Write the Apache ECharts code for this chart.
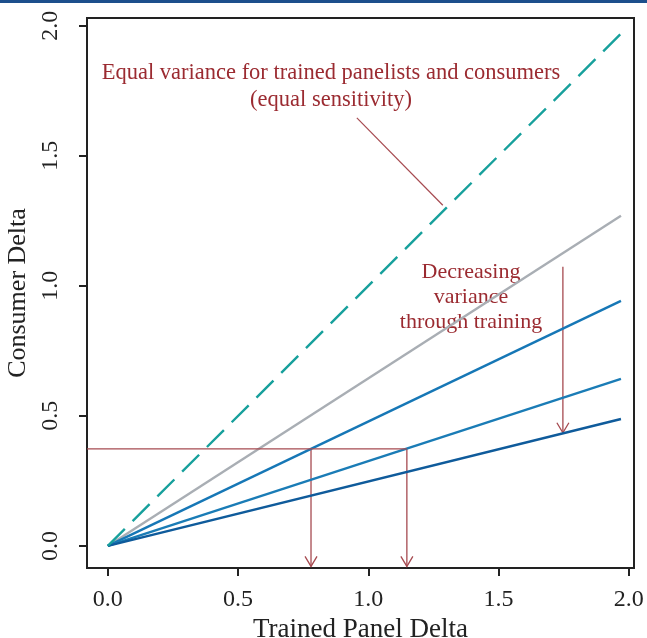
<!DOCTYPE html>
<html>
<head>
<meta charset="utf-8">
<script src="https://cdn.jsdelivr.net/npm/echarts@6/dist/echarts.min.js"></script>
<style>
  html, body { margin: 0; padding: 0; background: #fff; }
  #chart { width: 647px; height: 638px; }
</style>
</head>
<body>
<div id="chart"></div>
<script>
// data
var tickValues = [0, 0.5, 1, 1.5, 2];
var lineEndX = 1.97;
var lineEndY = [1.97, 1.27, 0.942, 0.642, 0.488];   // equal, gray, blue, blue, dark blue
var lineColors = ['#17a09c', '#a9aeb4', '#1677b6', '#1a7cb6', '#0f5b9b'];
var refLevel = 0.373;                 // horizontal reference line
var refCross = [0.78, 1.148];         // where it meets the two blue lines
var trainArrow = [1.747, 1.073, 0.435];
var pointer = [[0.956, 1.646], [1.286, 1.31]];

var xMin = -0.08, xMax = 2.02, yMin = -0.085, yMax = 2.03;
var serif = "'Liberation Serif', 'DejaVu Serif', serif";
var red = '#9b2b31', redLine = '#a64a50';

var myChart = echarts.init(document.getElementById('chart'));

var series = [];
// the five delta lines
lineEndY.forEach(function (v, i) {
    series.push({
        type: 'line',
        data: [[0, 0], [lineEndX, v]],
        symbol: 'none',
        z: i === 0 ? 3 : 2,
        lineStyle: {
            color: lineColors[i],
            width: 2.4,
            type: i === 0 ? [24, 11] : 'solid'
        }
    });
});
// horizontal reference line
series.push({
    type: 'line',
    data: [[xMin, refLevel], [refCross[1], refLevel]],
    symbol: 'none',
    lineStyle: { color: redLine, width: 1.3 }
});
// pointer for the top annotation
series.push({
    type: 'line',
    data: pointer,
    symbol: 'none',
    lineStyle: { color: redLine, width: 1.2 }
});
// arrows with open heads
var arrows = [
    [refCross[0], refLevel, yMin + 0.006],
    [refCross[1], refLevel, yMin + 0.006],
    trainArrow
];
series.push({
    type: 'custom',
    data: arrows,
    renderItem: function (params, api) {
        var p0 = api.coord([api.value(0), api.value(1)]);
        var p1 = api.coord([api.value(0), api.value(2)]);
        var h = 10, w = 6;
        var st = { stroke: redLine, lineWidth: 1.3, fill: null };
        return {
            type: 'group',
            children: [
                { type: 'line', shape: { x1: p0[0], y1: p0[1], x2: p1[0], y2: p1[1] }, style: st },
                { type: 'polyline', shape: { points: [[p1[0] - w, p1[1] - h], [p1[0], p1[1]], [p1[0] + w, p1[1] - h]] }, style: st }
            ]
        };
    }
});

var option = {
    animation: false,
    backgroundColor: '#fff',
    grid: {
        left: 87, right: 13, top: 18, bottom: 70,
        outerBoundsMode: 'none',
        containLabel: false,
        show: true, borderColor: '#222', borderWidth: 2, backgroundColor: 'transparent'
    },
    xAxis: {
        type: 'value',
        min: xMin, max: xMax,
        name: 'Trained Panel Delta',
        nameLocation: 'middle',
        nameGap: 44,
        nameTextStyle: { fontFamily: serif, fontSize: 27, color: '#222' },
        axisLine: { show: false, onZero: false },
        splitLine: { show: false },
        axisTick: { show: true, inside: false, length: 8, lineStyle: { color: '#222', width: 2 }, customValues: tickValues },
        axisLabel: {
            customValues: tickValues, margin: 20,
            fontFamily: serif, fontSize: 24, color: '#222',
            formatter: function (v) { return v.toFixed(1); }
        }
    },
    yAxis: {
        type: 'value',
        min: yMin, max: yMax,
        name: 'Consumer Delta',
        nameLocation: 'middle',
        nameRotate: 90,
        nameGap: 54,
        nameTextStyle: { fontFamily: serif, fontSize: 26, color: '#222' },
        axisLine: { show: false, onZero: false },
        splitLine: { show: false },
        axisTick: { show: true, inside: false, length: 8, lineStyle: { color: '#222', width: 2 }, customValues: tickValues },
        axisLabel: {
            customValues: tickValues, margin: 24, rotate: 90,
            fontFamily: serif, fontSize: 24, color: '#222',
            formatter: function (v) { return v.toFixed(1); }
        }
    },
    graphic: [
        { type: 'rect', x: 0, y: 0, shape: { width: 647, height: 3 }, style: { fill: '#1d4f8c' } },
        {
            type: 'text', x: 331, y: 60,
            style: {
                text: 'Equal variance for trained panelists and consumers\n(equal sensitivity)',
                font: '22.5px ' + serif, fill: red, align: 'center', lineHeight: 27
            }
        },
        {
            type: 'text', x: 471, y: 260,
            style: {
                text: 'Decreasing\nvariance\nthrough training',
                font: '22px ' + serif, fill: red, align: 'center', lineHeight: 25
            }
        }
    ],
    series: series
};

myChart.setOption(option);
</script>
</body>
</html>
